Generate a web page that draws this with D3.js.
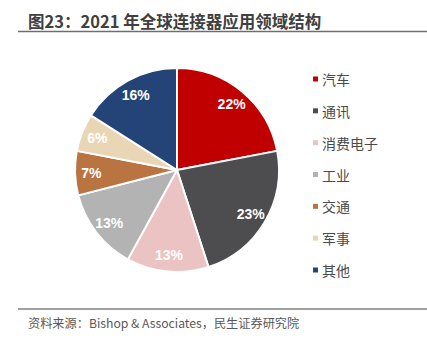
<!DOCTYPE html>
<html>
<head>
<meta charset="utf-8">
<script src="https://cdn.jsdelivr.net/npm/d3@7"></script>
<style>
  html, body { margin: 0; padding: 0; background: #fff; }
  svg { display: block; }
</style>
</head>
<body>
<svg id="chart" width="427" height="344"></svg>
<script>
const titleText = "图23：2021 年全球连接器应用领域结构";
const sourceText = "资料来源：Bishop & Associates，民生证券研究院";
const categories = ["汽车", "通讯", "消费电子", "工业", "交通", "军事", "其他"];
const values = [22, 23, 13, 13, 7, 6, 16];
const colors = ["#C00000", "#4D4D4F", "#EBC3C3", "#B3B3B3", "#BA7442", "#E9D6B5", "#244477"];

const svg = d3.select("#chart");
const cjk = "'Noto Sans CJK SC', 'Microsoft YaHei', sans-serif";

// Title
svg.append("text")
  .attr("x", 28).attr("y", 28)
  .attr("font-family", cjk)
  .attr("font-size", 16.5).attr("font-weight", "bold")
  .attr("fill", "#404040")
  .text(titleText);
svg.append("line")
  .attr("x1", 18).attr("x2", 427).attr("y1", 31.5).attr("y2", 31.5)
  .attr("stroke", "#6E6E6E").attr("stroke-width", 1.5);

// Footer
svg.append("line")
  .attr("x1", 18).attr("x2", 427).attr("y1", 309).attr("y2", 309)
  .attr("stroke", "#808080").attr("stroke-width", 1.5);
svg.append("text")
  .attr("x", 28).attr("y", 328)
  .attr("font-family", cjk)
  .attr("font-size", 12.2)
  .attr("fill", "#595959")
  .text(sourceText);

// Pie
const cx = 177, cy = 170, r = 102;
const color = d3.scaleOrdinal().domain(categories).range(colors);
const data = categories.map((c, i) => ({ cat: c, value: values[i] }));
const pie = d3.pie().value(d => d.value).sort(null).startAngle(0).endAngle(2 * Math.PI);
const arcs = pie(data);
const arc = d3.arc().innerRadius(0).outerRadius(r);
const labelArc = d3.arc().innerRadius(r * 0.84).outerRadius(r * 0.84);

const g = svg.append("g").attr("transform", `translate(${cx},${cy})`);
g.selectAll("path.slice").data(arcs).enter().append("path")
  .attr("class", "slice")
  .attr("d", arc)
  .attr("fill", d => color(d.data.cat))
  .attr("stroke", "#fff").attr("stroke-width", 2).attr("stroke-linejoin", "round");

const total = d3.sum(values);
g.selectAll("text.lbl").data(arcs).enter().append("text")
  .attr("class", "lbl")
  .attr("transform", d => `translate(${labelArc.centroid(d)})`)
  .attr("text-anchor", "middle").attr("dominant-baseline", "central")
  .attr("font-family", "'Liberation Sans', Arial, sans-serif")
  .attr("font-size", 14).attr("font-weight", "bold")
  .attr("fill", "#fff")
  .text(d => Math.round(d.data.value / total * 100) + "%");

// Legend
const ly = d3.scalePoint().domain(categories).range([79, 270]);
const leg = svg.append("g");
const items = leg.selectAll("g").data(categories).enter().append("g")
  .attr("transform", d => `translate(313,${ly(d)})`);
items.append("rect")
  .attr("x", 0).attr("y", -2.5).attr("width", 5).attr("height", 5)
  .attr("fill", d => color(d));
items.append("text")
  .attr("x", 9).attr("y", 0)
  .attr("dominant-baseline", "central")
  .attr("font-family", cjk)
  .attr("font-size", 14)
  .attr("fill", "#4A4A4A")
  .text(d => d);
</script>
</body>
</html>
